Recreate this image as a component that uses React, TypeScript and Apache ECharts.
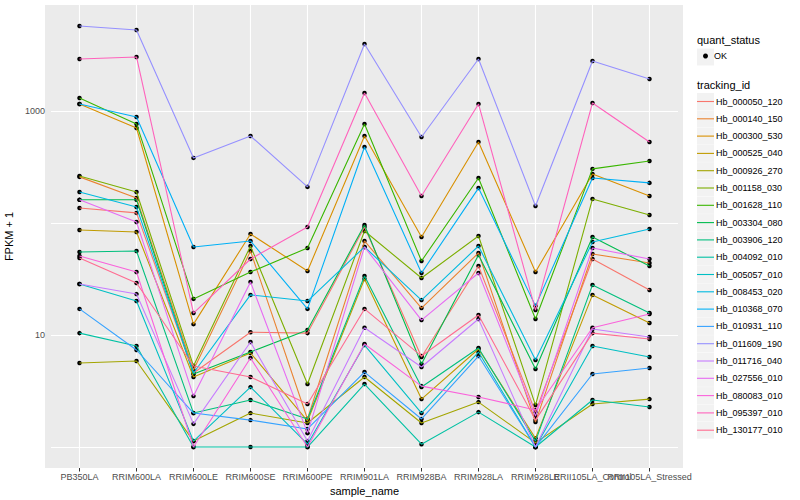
import React, { useEffect, useRef } from "react";
import * as echarts from "echarts";

const categories = [
  "PB350LA", "RRIM600LA", "RRIM600LE", "RRIM600SE", "RRIM600PE", "RRIM901LA",
  "RRIM928BA", "RRIM928LA", "RRIM928LE", "RRII105LA_Control", "RRII105LA_Stressed",
];

// FPKM + 1 values per tracking id, one per sample
const hb_000050_120 = [136, 123, 4.58, 10.6, 10.4, 92.1, 6.36, 41.3, 2.05, 47.7, 25.2];
const hb_000140_150 = [258, 167, 4.87, 56.2, 1.78, 69.1, 17.4, 54.0, 1.67, 52.9, 43.9];
const hb_000300_530 = [1155, 705, 12.5, 79.8, 37.3, 598, 75.0, 529, 36.5, 274, 174];
const hb_000525_040 = [86.6, 83.1, 4.22, 6.91, 1.71, 31.6, 2.68, 7.5, 1.2, 22.8, 12.8];
const hb_000926_270 = [5.62, 5.86, 1.13, 2.01, 1.64, 4.22, 1.64, 2.52, 1.09, 2.42, 2.68];
const hb_001158_030 = [263, 189, 5.29, 62.3, 3.65, 84.8, 32.3, 76.6, 2.37, 164, 118];
const hb_001628_110 = [1306, 766, 21.0, 36.5, 59.8, 766, 45.8, 252, 13.9, 304, 358];
const hb_003304_080 = [161, 161, 4.49, 7.05, 11.1, 96.0, 5.51, 51.8, 4.97, 75.0, 41.3];
const hb_003906_120 = [55.1, 56.2, 2.01, 2.63, 1.78, 33.6, 3.43, 7.66, 1.13, 28.0, 15.7];
const hb_004092_010 = [10.4, 7.98, 1, 1, 1, 3.65, 1.06, 2.05, 1, 2.63, 2.28];
const hb_005057_010 = [28.5, 20.1, 1.13, 3.43, 1.06, 8.14, 2.01, 7.05, 1, 7.98, 6.36];
const hb_008453_020 = [189, 139, 4.58, 22.8, 20.1, 61.1, 20.5, 62.3, 5.98, 67.7, 88.4];
const hb_010368_070 = [1155, 884, 61.1, 69.1, 17.1, 477, 35.8, 205, 18.2, 252, 228];
const hb_010931_110 = [17.1, 7.35, 2.01, 1.74, 1.45, 4.67, 1.78, 6.49, 1, 4.49, 5.07];
const hb_011609_190 = [5740, 5287, 381, 598, 210, 3964, 586, 2913, 142, 2795, 1931];
const hb_011716_040 = [28.5, 23.2, 1.61, 8.66, 1.13, 11.6, 5.18, 13.9, 1, 11.3, 9.6];
const hb_027556_010 = [161, 102, 2.85, 29.7, 1.33, 61.1, 13.6, 35.8, 1.89, 59.8, 47.7];
const hb_080083_010 = [50.7, 36.5, 1, 6.23, 1, 8.31, 3.5, 2.8, 2.14, 11.6, 15.4];
const hb_095397_010 = [2913, 3035, 15.7, 47.7, 92.1, 1448, 174, 1155, 16.7, 1179, 529];
const hb_130177_010 = [48.7, 29.1, 5.29, 4.22, 2.42, 17.1, 6.49, 15.1, 1.74, 10.4, 9.21];

const trackingIds = [
  "Hb_000050_120", "Hb_000140_150", "Hb_000300_530", "Hb_000525_040", "Hb_000926_270",
  "Hb_001158_030", "Hb_001628_110", "Hb_003304_080", "Hb_003906_120", "Hb_004092_010",
  "Hb_005057_010", "Hb_008453_020", "Hb_010368_070", "Hb_010931_110", "Hb_011609_190",
  "Hb_011716_040", "Hb_027556_010", "Hb_080083_010", "Hb_095397_010", "Hb_130177_010",
];
const seriesValues = [
  hb_000050_120, hb_000140_150, hb_000300_530, hb_000525_040, hb_000926_270,
  hb_001158_030, hb_001628_110, hb_003304_080, hb_003906_120, hb_004092_010,
  hb_005057_010, hb_008453_020, hb_010368_070, hb_010931_110, hb_011609_190,
  hb_011716_040, hb_027556_010, hb_080083_010, hb_095397_010, hb_130177_010,
];
const quantStatus = ["OK"];

const palette = [
  "#F8766D", "#EA8331", "#D89000", "#C09B00", "#A3A500", "#7CAE00", "#39B600",
  "#00BB4E", "#00BF7D", "#00C1A3", "#00BFC4", "#00BAE0", "#00B0F6", "#35A2FF",
  "#9590FF", "#C77CFF", "#E76BF3", "#FA62DB", "#FF62BC", "#FF6C91",
];

const FONT = "'Liberation Sans', Arial, Helvetica, sans-serif";

export default function App() {
  const ref = useRef<HTMLDivElement>(null);
  useEffect(() => {
    document.body.style.margin = "0";
    if (!ref.current) return;
    const chart = echarts.init(ref.current, null, { renderer: "svg" });

    const lineSeries = trackingIds.map((id, i) => ({
      name: id,
      type: "line",
      data: seriesValues[i],
      showSymbol: false,
      symbol: "none",
      color: palette[i],
      itemStyle: { color: palette[i] },
      lineStyle: { color: palette[i], width: 1.1 },
      emphasis: { disabled: true },
      silent: true,
    }));
    const points: any[] = [];
    seriesValues.forEach((vals) => vals.forEach((v, j) => points.push([j, v])));

    const keyRects: any[] = [
      { type: "rect", shape: { x: 45, y: 5, width: 638, height: 463 }, style: { fill: "#EBEBEB" }, z: -10 },
      { type: "rect", shape: { x: 697, y: 48.5, width: 17, height: 17 }, style: { fill: "#F2F2F2" }, z: -10 },
    ];
    trackingIds.forEach((_, i) => {
      keyRects.push({
        type: "rect",
        shape: { x: 697, y: 93 + 17.3 * i, width: 17, height: 17 },
        style: { fill: "#F2F2F2" },
        z: -10,
      });
    });
    // y-axis tick marks at the labelled breaks (10 and 1000)
    const tickMarks: any[] = [];

    chart.setOption({
      animation: false,
      backgroundColor: "#FFFFFF",
      textStyle: { fontFamily: FONT },
      color: palette,
      title: [
        { text: "quant_status", left: 697, top: 34, padding: 0, textStyle: { fontSize: 11, fontWeight: "normal", color: "#000", fontFamily: FONT } },
        { text: "tracking_id", left: 697, top: 79, padding: 0, textStyle: { fontSize: 11, fontWeight: "normal", color: "#000", fontFamily: FONT } },
      ],
      graphic: keyRects.concat(tickMarks),
      legend: [
        {
          data: quantStatus,
          orient: "vertical",
          left: 703,
          top: 51.5,
          padding: 0,
          itemWidth: 5,
          itemHeight: 5,
          icon: "circle",
          selectedMode: false,
          itemStyle: { color: "#000", opacity: 1, borderWidth: 0 },
          textStyle: { fontSize: 9, color: "#000", fontFamily: FONT, padding: [0, 0, 0, 1] },
        },
        {
          data: trackingIds,
          orient: "vertical",
          left: 697,
          top: 93,
          padding: 0,
          itemWidth: 17,
          itemHeight: 17,
          itemGap: 0.3,
          icon: "path://M0,0h34v2.2h-34z",
          selectedMode: false,
          textStyle: { fontSize: 9, lineHeight: 17, height: 17, color: "#000", fontFamily: FONT, padding: [0, 0, 0, -3] },
        },
      ],
      grid: { left: 51, top: 5, width: 627, height: 463, outerBoundsMode: "none", containLabel: false },
      xAxis: {
        type: "category",
        data: categories,
        boundaryGap: true,
        name: "sample_name",
        nameLocation: "middle",
        nameGap: 14,
        nameTextStyle: { fontSize: 11, color: "#000", fontFamily: FONT },
        axisLine: { show: false },
        axisTick: { show: true, alignWithLabel: true, length: 3.5, lineStyle: { color: "#333333", width: 1 } },
        axisLabel: { interval: 0, fontSize: 9, color: "#4D4D4D", margin: 4, fontFamily: FONT, hideOverlap: false },
        splitLine: { show: true, alignWithLabel: true, interval: 0, lineStyle: { color: "#FFFFFF", width: 1.1 } },
      },
      yAxis: {
        type: "log",
        logBase: 10,
        min: 0.65,
        max: 8830,
        name: "FPKM + 1",
        nameLocation: "middle",
        nameGap: 27,
        nameTextStyle: { fontSize: 11, color: "#000", fontFamily: FONT },
        axisLine: { show: false },
        axisTick: { show: false },
        axisLabel: {
          fontSize: 9,
          color: "#4D4D4D",
          margin: 6,
          fontFamily: FONT,
          showMinLabel: true,
          showMaxLabel: true,
          formatter: (v: number) => {
            const l = Math.log10(v);
            const r = Math.round(l);
            if (Math.abs(l - r) < 1e-6 && (r === 1 || r === 3)) return String(Math.round(v));
            return "";
          },
        },
        splitLine: { show: true, showMinLine: false, showMaxLine: false, lineStyle: { color: "#FFFFFF", width: 1 } },
      },
      series: [
        ...lineSeries,
        {
          name: "OK",
          type: "scatter",
          data: points,
          symbol: "circle",
          symbolSize: 4.5,
          itemStyle: { color: "#000000", opacity: 1, borderWidth: 0 },
          silent: true,
        },
      ],
    });
    return () => chart.dispose();
  }, []);
  return <div ref={ref} style={{ position: "fixed", left: 0, top: 0, width: 800, height: 500 }} />;
}
